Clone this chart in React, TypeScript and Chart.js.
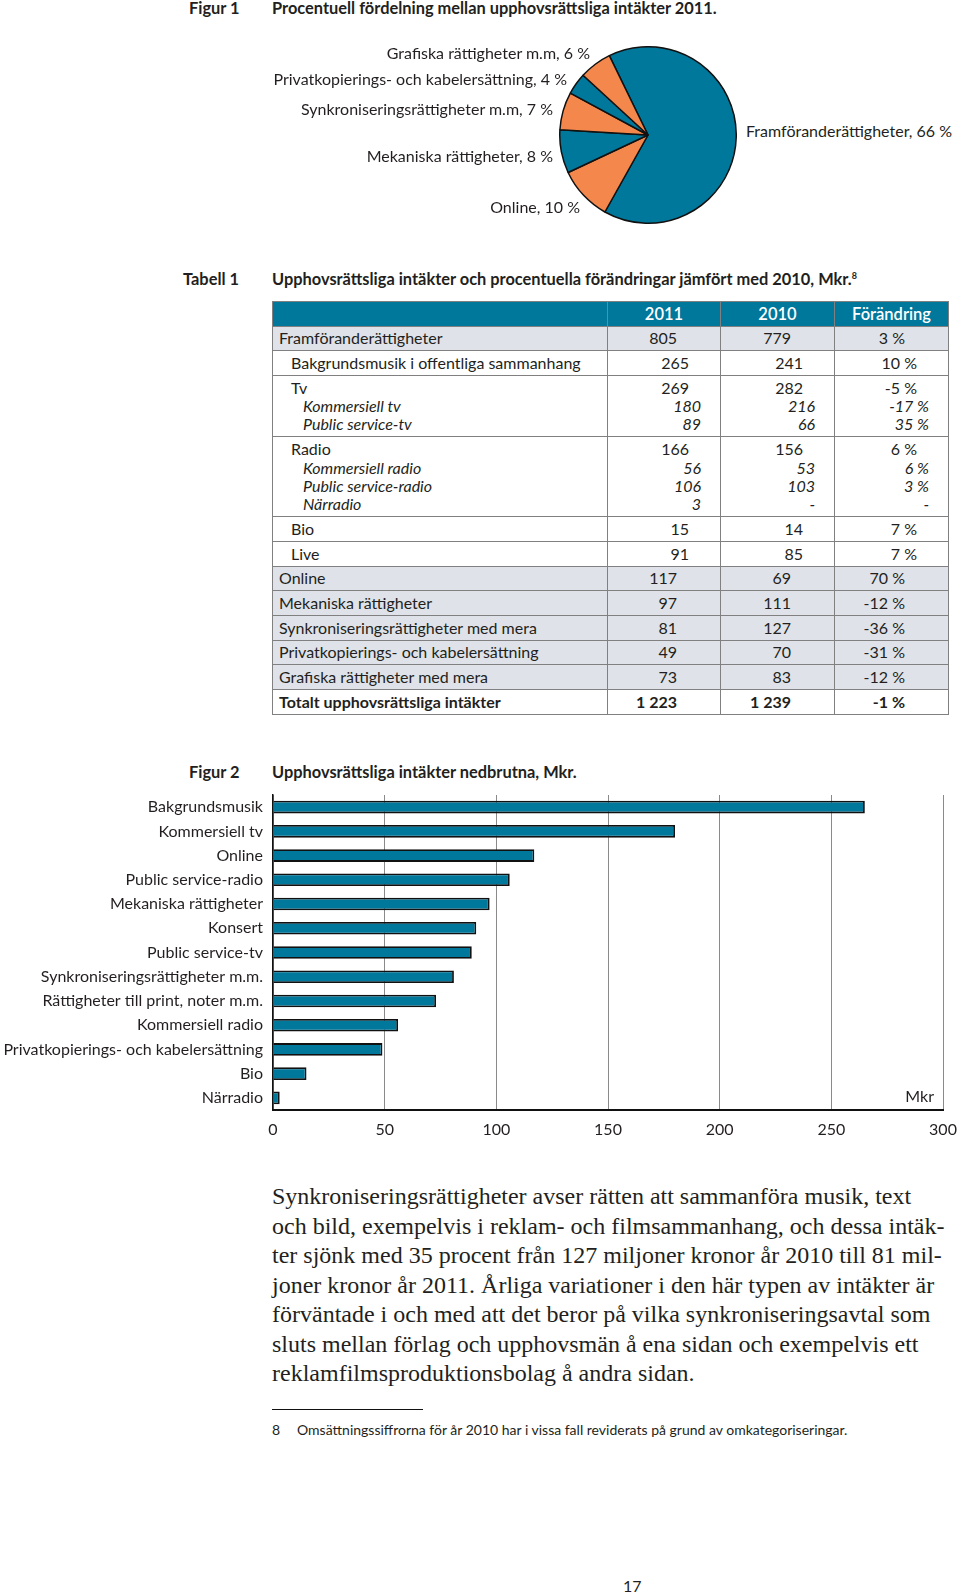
import React, { useEffect, useRef } from 'react';
import { Chart, registerables } from 'chart.js';
Chart.register(...registerables);

// ---------- Figur 1 (pie) data ----------
const pieCategories = [
  'Framföranderättigheter',
  'Online',
  'Mekaniska rättigheter',
  'Synkroniseringsrättigheter m.m',
  'Privatkopierings- och kabelersättning',
  'Grafiska rättigheter m.m',
];
const pieValues = [66, 10, 8, 7, 4, 6];

// ---------- Tabell 1 data ----------
const tableHeader = ['', '2011', '2010', 'Förändring'];
const tableLabels = [
  ['Framföranderättigheter'],
  ['Bakgrundsmusik i offentliga sammanhang'],
  ['Tv', 'Kommersiell tv', 'Public service-tv'],
  ['Radio', 'Kommersiell radio', 'Public service-radio', 'Närradio'],
  ['Bio'],
  ['Live'],
  ['Online'],
  ['Mekaniska rättigheter'],
  ['Synkroniseringsrättigheter med mera'],
  ['Privatkopierings- och kabelersättning'],
  ['Grafiska rättigheter med mera'],
  ['Totalt upphovsrättsliga intäkter'],
];
const table2011 = [['805'], ['265'], ['269', '180', '89'], ['166', '56', '106', '3'], ['15'], ['91'], ['117'], ['97'], ['81'], ['49'], ['73'], ['1 223']];
const table2010 = [['779'], ['241'], ['282', '216', '66'], ['156', '53', '103', '-'], ['14'], ['85'], ['69'], ['111'], ['127'], ['70'], ['83'], ['1 239']];
const tableChange = [['3 %'], ['10 %'], ['-5 %', '-17 %', '35 %'], ['6 %', '6 %', '3 %', '-'], ['7 %'], ['7 %'], ['70 %'], ['-12 %'], ['-36 %'], ['-31 %'], ['-12 %'], ['-1 %']];
const tableLevels = [[0], [1], [1, 2, 2], [1, 2, 2, 2], [1], [1], [0], [0], [0], [0], [0], [0]];
const tableShaded = [true, false, false, false, false, false, true, true, true, true, true, false];

// ---------- Figur 2 (bars) data ----------
const barCategories = [
  'Bakgrundsmusik',
  'Kommersiell tv',
  'Online',
  'Public service-radio',
  'Mekaniska rättigheter',
  'Konsert',
  'Public service-tv',
  'Synkroniseringsrättigheter m.m.',
  'Rättigheter till print, noter m.m.',
  'Kommersiell radio',
  'Privatkopierings- och kabelersättning',
  'Bio',
  'Närradio',
];
const barValues = [265, 180, 117, 106, 97, 91, 89, 81, 73, 56, 49, 15, 3];
const xTickValues = [0, 50, 100, 150, 200, 250, 300];

// ---------- text ----------
const paragraphLines = [
  'Synkroniseringsrättigheter avser rätten att sammanföra musik, text',
  'och bild, exempelvis i reklam- och filmsammanhang, och dessa intäk-',
  'ter sjönk med 35 procent från 127 miljoner kronor år 2010 till 81 mil-',
  'joner kronor år 2011. Årliga variationer i den här typen av intäkter är',
  'förväntade i och med att det beror på vilka synkroniseringsavtal som',
  'sluts mellan förlag och upphovsmän å ena sidan och exempelvis ett',
  'reklamfilmsproduktionsbolag å andra sidan.',
];

const BLUE = '#00789c';
const ORANGE = '#f4874b';
const SANS = 'Lato, "Open Sans", sans-serif';
const SERIF = '"Liberation Serif", "DejaVu Serif", serif';
const TXT = '#231f20';
const FS = 16;
const HFS = 16.4;

// layout for pie labels (anchor x, center y, side)
const pieLabelLayout = [
  { x: 746, y: 131, side: 'left' },
  { x: 580, y: 207, side: 'right' },
  { x: 553, y: 156, side: 'right' },
  { x: 553, y: 109, side: 'right' },
  { x: 567, y: 79, side: 'right' },
  { x: 590, y: 53, side: 'right' },
];

function Txt(props: { x: number; y: number; children: any; align?: 'left' | 'right'; size?: number; bold?: boolean; family?: string; lh?: number }) {
  const lh = props.lh ?? 20;
  const style: any = {
    position: 'absolute',
    top: props.y - lh / 2,
    lineHeight: lh + 'px',
    fontSize: (props.size ?? FS) + 'px',
    fontFamily: props.family ?? SANS,
    fontWeight: props.bold ? 700 : 400,
    color: TXT,
    whiteSpace: 'nowrap',
  };
  if (props.align === 'right') style.right = 960 - props.x;
  else style.left = props.x;
  return <div style={style}>{props.children}</div>;
}

function PieChart() {
  const ref = useRef<HTMLCanvasElement>(null);
  useEffect(() => {
    const chart = new Chart(ref.current!, {
      type: 'pie',
      data: {
        labels: pieCategories,
        datasets: [
          {
            data: pieValues,
            backgroundColor: pieValues.map((_, i) => (i % 2 === 0 ? BLUE : ORANGE)),
            borderColor: '#111',
            borderWidth: 1.5,
          },
        ],
      },
      options: {
        responsive: false,
        animation: false,
        rotation: -26,
        layout: { padding: 0 },
        plugins: { legend: { display: false }, tooltip: { enabled: false } },
      },
    });
    return () => chart.destroy();
  }, []);
  return <canvas ref={ref} width={178} height={178} style={{ position: 'absolute', left: 559, top: 46 }} />;
}

function BarChart() {
  const ref = useRef<HTMLCanvasElement>(null);
  useEffect(() => {
    const font = { family: SANS, size: FS };
    const chart = new Chart(ref.current!, {
      type: 'bar',
      data: {
        labels: barCategories,
        datasets: [
          {
            data: barValues,
            backgroundColor: BLUE,
            borderColor: '#111',
            borderWidth: 1.8,
            barPercentage: 0.52,
            categoryPercentage: 1,
          },
        ],
      },
      options: {
        indexAxis: 'y',
        responsive: false,
        animation: false,
        layout: { padding: { top: 15, right: 17, left: 0, bottom: 0 } },
        plugins: { legend: { display: false }, tooltip: { enabled: false } },
        scales: {
          x: {
            min: 0,
            max: 300,
            afterBuildTicks: (s: any) => {
              s.ticks = xTickValues.map((v) => ({ value: v }));
            },
            ticks: { color: TXT, font, padding: 10, maxRotation: 0 },
            grid: { color: '#8a8a8a', lineWidth: 1, drawTicks: false },
            border: { display: true, color: '#111', width: 2 },
            afterFit: (s: any) => {
              s.height = 40;
              s.paddingLeft = 0;
              s.paddingRight = 0;
            },
          },
          y: {
            ticks: { color: TXT, font, padding: 10, autoSkip: false },
            grid: { display: false, drawTicks: false },
            border: { display: true, color: '#111', width: 1.5 },
            afterFit: (s: any) => {
              s.width = 273;
              s.paddingTop = 0;
              s.paddingBottom = 0;
            },
          },
        },
      },
    });
    return () => chart.destroy();
  }, []);
  return <canvas ref={ref} width={960} height={370} style={{ position: 'absolute', left: 0, top: 780 }} />;
}

function Table() {
  const border = '1.5px solid #808080';
  const colW = [335, 113, 114, 114];
  const cellBase: any = { border, padding: '2.65px 0', verticalAlign: 'top', fontFamily: SANS, fontSize: FS + 'px', color: TXT };
  const line = (t: string, lvl: number, numeric: boolean, bold: boolean, key: number) => (
    <div
      key={key}
      style={{
        lineHeight: '18.4px',
        height: 18.4,
        whiteSpace: 'nowrap',
        fontStyle: lvl === 2 ? 'italic' : 'normal',
        fontWeight: bold ? 700 : 400,
        textAlign: numeric ? 'right' : 'left',
        paddingLeft: numeric ? 0 : 6 + 12 * lvl,
        paddingRight: numeric ? 43 - 12 * lvl : 0,
      }}
    >
      {t}
    </div>
  );
  return (
    <table
      style={{ position: 'absolute', left: 272, top: 301, width: 676, borderCollapse: 'collapse', tableLayout: 'fixed' }}
    >
      <colgroup>
        {colW.map((w, i) => (
          <col key={i} style={{ width: w }} />
        ))}
      </colgroup>
      <tbody>
        <tr style={{ background: BLUE }}>
          {tableHeader.map((h, i) => (
            <td key={i} style={{ ...cellBase, color: '#fff', textAlign: 'center', lineHeight: '18.4px', fontSize: '16.5px', fontWeight: 600 }}>
              {h}
            </td>
          ))}
        </tr>
        {tableLabels.map((labels, r) => {
          const bold = r === tableLabels.length - 1;
          const bg = tableShaded[r] ? '#dfe3e9' : '#fff';
          const cols = [labels, table2011[r], table2010[r], tableChange[r]];
          return (
            <tr key={r} style={{ background: bg }}>
              {cols.map((vals, c) => (
                <td key={c} style={cellBase}>
                  {vals.map((v, k) => line(v, tableLevels[r][k], c > 0, bold, k))}
                </td>
              ))}
            </tr>
          );
        })}
      </tbody>
    </table>
  );
}

export default function App() {
  return (
    <div style={{ position: 'relative', width: 960, height: 1596, background: '#fff', overflow: 'hidden' }}>
      <style>{`body{margin:0;background:#fff}`}</style>

      <Txt x={189} y={8} bold size={HFS}>Figur 1</Txt>
      <Txt x={272} y={8} bold size={HFS}>Procentuell fördelning mellan upphovsrättsliga intäkter 2011.</Txt>

      <PieChart />
      {pieCategories.map((c, i) => {
        const l = pieLabelLayout[i];
        return (
          <Txt key={i} x={l.x} y={l.y} align={l.side === 'left' ? 'left' : 'right'}>
            {`${c}, ${pieValues[i]} %`}
          </Txt>
        );
      })}

      <Txt x={183} y={279} bold size={HFS}>Tabell 1</Txt>
      <Txt x={272} y={279} bold size={HFS}>
        Upphovsrättsliga intäkter och procentuella förändringar jämfört med 2010, Mkr.
        <sup style={{ fontSize: '9px', verticalAlign: 'top', lineHeight: '14px' }}>8</sup>
      </Txt>

      <Table />

      <Txt x={189} y={772} bold size={HFS}>Figur 2</Txt>
      <Txt x={272} y={772} bold size={HFS}>Upphovsrättsliga intäkter nedbrutna, Mkr.</Txt>

      <BarChart />
      <Txt x={934} y={1096} align="right">Mkr</Txt>

      <div style={{ position: 'absolute', left: 272, top: 1182, fontFamily: SERIF, fontSize: '24px', lineHeight: '29.5px', color: TXT, whiteSpace: 'nowrap' }}>
        {paragraphLines.map((l, i) => (
          <div key={i}>{l}</div>
        ))}
      </div>

      <div style={{ position: 'absolute', left: 272, top: 1409, width: 151, height: 1, background: '#111' }} />
      <Txt x={272} y={1430} size={14}>8</Txt>
      <Txt x={297} y={1430} size={14}>Omsättningssiffrorna för år 2010 har i vissa fall reviderats på grund av omkategoriseringar.</Txt>

      <Txt x={623} y={1586} size={16}>17</Txt>
    </div>
  );
}
